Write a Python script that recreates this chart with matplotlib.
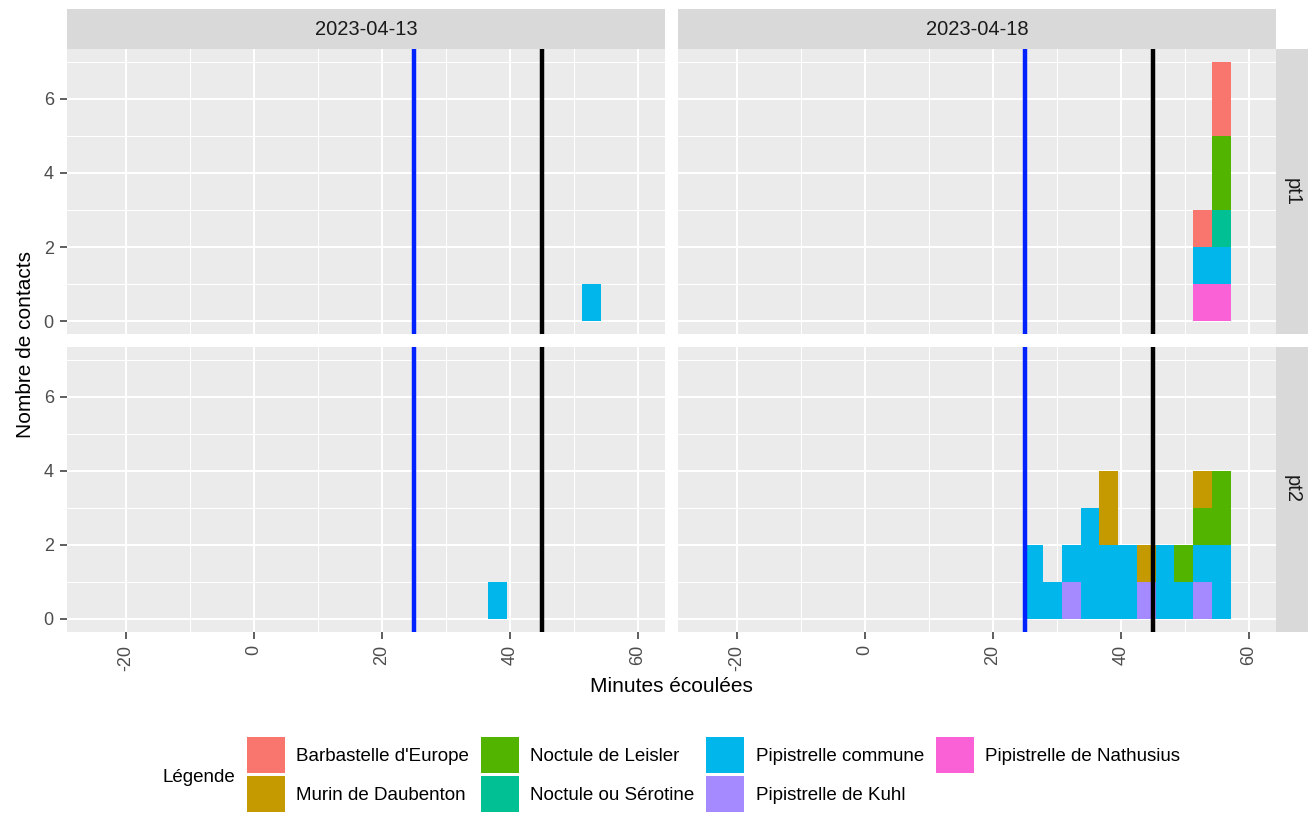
import numpy as np
import matplotlib
matplotlib.use("Agg")
import matplotlib.pyplot as plt
from matplotlib.patches import Patch

plt.rcParams['font.family'] = ['Liberation Sans', 'DejaVu Sans']
plt.rcParams['axes.unicode_minus'] = False

dates = ["2023-04-13", "2023-04-18"]
points = ["pt1", "pt2"]
species = ["Barbastelle d'Europe", "Murin de Daubenton", "Noctule de Leisler",
           "Noctule ou Sérotine", "Pipistrelle commune", "Pipistrelle de Kuhl",
           "Pipistrelle de Nathusius"]
colors = ["#F8766D", "#C49A00", "#53B400", "#00C094", "#00B6EB", "#A58AFF", "#FB61D7"]

# observations (date, point, species, minute, count)
obs_date = ["2023-04-13", "2023-04-13",
            "2023-04-18", "2023-04-18", "2023-04-18", "2023-04-18", "2023-04-18",
            "2023-04-18", "2023-04-18", "2023-04-18",
            "2023-04-18", "2023-04-18", "2023-04-18", "2023-04-18", "2023-04-18",
            "2023-04-18", "2023-04-18", "2023-04-18", "2023-04-18", "2023-04-18",
            "2023-04-18", "2023-04-18", "2023-04-18",
            "2023-04-18", "2023-04-18", "2023-04-18",
            "2023-04-18", "2023-04-18", "2023-04-18"]
obs_point = ["pt1", "pt2",
             "pt1", "pt1", "pt1", "pt1", "pt1", "pt1", "pt1", "pt1",
             "pt2", "pt2", "pt2", "pt2", "pt2", "pt2", "pt2", "pt2", "pt2", "pt2",
             "pt2", "pt2", "pt2",
             "pt2", "pt2", "pt2",
             "pt2", "pt2", "pt2"]
obs_species = ["Pipistrelle commune", "Pipistrelle commune",
               "Pipistrelle de Nathusius", "Pipistrelle de Nathusius",
               "Pipistrelle commune", "Pipistrelle commune",
               "Barbastelle d'Europe", "Barbastelle d'Europe",
               "Noctule ou Sérotine", "Noctule de Leisler",
               "Pipistrelle commune", "Pipistrelle commune", "Pipistrelle commune",
               "Pipistrelle commune", "Pipistrelle commune", "Pipistrelle commune",
               "Pipistrelle commune", "Pipistrelle commune", "Pipistrelle commune",
               "Pipistrelle commune",
               "Pipistrelle de Kuhl", "Pipistrelle de Kuhl", "Pipistrelle de Kuhl",
               "Murin de Daubenton", "Murin de Daubenton", "Murin de Daubenton",
               "Noctule de Leisler", "Noctule de Leisler", "Noctule de Leisler"]
obs_minute = [52.8, 38.1,
              52.8, 55.7, 52.8, 55.7, 52.8, 55.7, 55.7, 55.7,
              26.4, 29.3, 32.2, 35.2, 38.1, 41.0, 46.9, 49.8, 52.8, 55.7,
              32.2, 44.0, 52.8,
              38.1, 44.0, 52.8,
              49.8, 52.8, 55.7]
obs_count = [1, 1,
             1, 1, 1, 1, 1, 2, 1, 2,
             2, 1, 1, 3, 2, 2, 2, 1, 1, 2,
             1, 1, 1,
             2, 1, 1,
             1, 1, 2]

sunset_line = 25
dark_line = 45
x_range = (-25, 60)

# ggplot-like bins (30 bins over the x range)
bw = (x_range[1] - x_range[0]) / 29
edges = bw / 2 + bw * np.arange(-12, 24)

W, H = 1308, 815
fig = plt.figure(figsize=(W / 100, H / 100), dpi=100)

col_x = [66.7, 677.7]
col_w = 598.3
row_y = [49.0, 346.7]
row_h = 285.0

obs_date = np.array(obs_date)
obs_point = np.array(obs_point)
obs_species = np.array(obs_species)
obs_minute = np.array(obs_minute)
obs_count = np.array(obs_count)

for r, pt in enumerate(points):
    for c, d in enumerate(dates):
        ax = fig.add_axes([col_x[c] / W, 1 - (row_y[r] + row_h) / H, col_w / W, row_h / H])
        ax.set_facecolor("#EBEBEB")
        for s in ax.spines.values():
            s.set_visible(False)
        ax.set_xlim(-29.25, 64.25)
        ax.set_ylim(-0.35, 7.35)
        ax.set_xticks([-20, 0, 20, 40, 60])
        ax.set_xticks([-10, 10, 30, 50], minor=True)
        ax.set_yticks([0, 2, 4, 6])
        ax.set_yticks([1, 3, 5, 7], minor=True)
        ax.grid(True, which='major', color='white', lw=1.5)
        ax.grid(True, which='minor', color='white', lw=0.75)
        ax.set_axisbelow(True)
        ax.tick_params(which='minor', length=0)
        ax.tick_params(which='major', length=5, width=1.1, color='#333333',
                       labelcolor='#4D4D4D', labelsize=13, pad=4.3)
        if r == 1:
            ax.tick_params(axis='x', labelrotation=90)
        else:
            ax.tick_params(axis='x', length=0, labelbottom=False)
        if c == 1:
            ax.tick_params(axis='y', length=0, labelleft=False)

        sel = (obs_date == d) & (obs_point == pt)
        bottom = np.zeros(len(edges) - 1)
        for sp, col in reversed(list(zip(species, colors))):
            m = sel & (obs_species == sp)
            counts, _ = np.histogram(obs_minute[m], bins=edges, weights=obs_count[m])
            nz = counts > 0
            ax.bar(edges[:-1][nz], counts[nz], width=bw, bottom=bottom[nz],
                   align='edge', color=col, linewidth=0, zorder=2)
            bottom += counts

        ax.axvline(sunset_line, color='#0022FF', lw=3.2, zorder=3)
        ax.axvline(dark_line, color='black', lw=3.2, zorder=3)

        # strips
        if r == 0:
            sax = fig.add_axes([col_x[c] / W, 1 - 49.0 / H, col_w / W, 39.7 / H])
            sax.set_facecolor("#D9D9D9")
            sax.set_xticks([]); sax.set_yticks([])
            for s in sax.spines.values():
                s.set_visible(False)
            sax.text(0.5, 0.5, d, ha='center', va='center', fontsize=14.5, color='#1A1A1A',
                     transform=sax.transAxes)
        if c == 1:
            sax = fig.add_axes([1276 / W, 1 - (row_y[r] + row_h) / H, 33 / W, row_h / H])
            sax.set_facecolor("#D9D9D9")
            sax.set_xticks([]); sax.set_yticks([])
            for s in sax.spines.values():
                s.set_visible(False)
            sax.text(0.5, 0.5, pt, ha='center', va='center', fontsize=14.5, color='#1A1A1A',
                     rotation=-90, transform=sax.transAxes)

fig.text(671.4 / W, 1 - 686 / H, "Minutes écoulées", ha='center', va='center', fontsize=15)
fig.text(26 / W, 1 - 345 / H, "Nombre de contacts", ha='center', va='center',
         rotation=90, fontsize=15)

handles = [Patch(facecolor=col, edgecolor='none') for col in colors]
fig.legend(handles, species, loc='center left', bbox_to_anchor=(247 / W, 1 - 774.5 / H),
           ncol=4, frameon=False, fontsize=13.5, handlelength=2.03, handleheight=2.58,
           handletextpad=0.59, columnspacing=0.64, labelspacing=0.17, borderpad=0,
           borderaxespad=0)
fig.text(162 / W, 1 - 777 / H, "Légende", ha='left', va='center', fontsize=13.5)

fig.savefig("out.png", dpi=100)
